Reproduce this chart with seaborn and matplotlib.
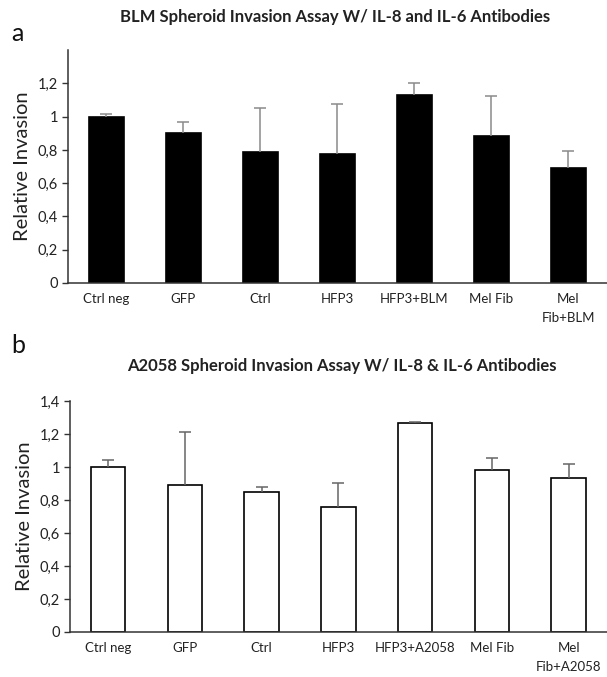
import numpy as np
import pandas as pd
import matplotlib
matplotlib.use("Agg")
import matplotlib.pyplot as plt
import seaborn as sns

cats_a = ["Ctrl neg", "GFP", "Ctrl", "HFP3", "HFP3+BLM", "Mel Fib", "Mel\nFib+BLM"]
vals_a = [1.00, 0.90, 0.786, 0.776, 1.133, 0.881, 0.692]
err_a = [0.015, 0.067, 0.263, 0.297, 0.071, 0.244, 0.100]

cats_b = ["Ctrl neg", "GFP", "Ctrl", "HFP3", "HFP3+A2058", "Mel Fib", "Mel\nFib+A2058"]
vals_b = [1.00, 0.890, 0.849, 0.760, 1.271, 0.983, 0.936]
err_b = [0.045, 0.324, 0.032, 0.142, 0.006, 0.075, 0.083]

yticks = [0, 0.2, 0.4, 0.6, 0.8, 1.0, 1.2, 1.4]
ytick_labels = ["0", "0,2", "0,4", "0,6", "0,8", "1", "1,2", "1,4"]

title_a = "BLM Spheroid Invasion Assay W/ IL-8 and IL-6 Antibodies"
title_b = "A2058 Spheroid Invasion Assay W/ IL-8 & IL-6 Antibodies"

sns.set_style("white")
plt.rcParams["font.family"] = ["Lato", "DejaVu Sans"]

fig = plt.figure(figsize=(6.07, 6.77), dpi=100)
ax_a = fig.add_axes([0.1115, 0.582, 0.8885, 0.344])
ax_b = fig.add_axes([0.1148, 0.0665, 0.8852, 0.3407])


def draw(ax, cats, vals, errs, face, ecolor, n_labels):
    df = pd.DataFrame({"cat": cats, "val": vals})
    sns.barplot(data=df, x="cat", y="val", ax=ax, color=face, width=0.45,
                edgecolor="black", linewidth=1.2, saturation=1)
    x = np.arange(len(cats))
    _, caps, _ = ax.errorbar(x, vals, yerr=[np.zeros(len(cats)), errs], fmt="none",
                             ecolor=ecolor, elinewidth=1.1, capsize=4, capthick=1.1, zorder=1)
    caps[0].set_visible(False)
    ax.set_xlim(-0.5, len(cats) - 0.5)
    ax.set_ylim(0, 1.4)
    ax.set_yticks(yticks[:n_labels])
    ax.set_yticklabels(ytick_labels[:n_labels], fontsize=10.5, color="#222222")
    ax.set_xticks(x)
    ax.set_xticklabels(cats, fontsize=9.5, color="#222222", linespacing=1.75)
    ax.set_xticks(np.arange(len(cats) + 1) - 0.5, minor=True)
    ax.tick_params(axis="x", which="major", length=0, pad=7)
    ax.tick_params(axis="x", which="minor", length=5, width=1, color="#333333", direction="out")
    ax.tick_params(axis="y", length=4, width=1, color="#333333", direction="out", pad=3, left=True)
    ax.set_xlabel("")
    ax.set_ylabel("Relative Invasion", fontsize=14.5, color="#222222", labelpad=5)
    for s in ["top", "right"]:
        ax.spines[s].set_visible(False)
    for s in ["left", "bottom"]:
        ax.spines[s].set_color("#333333")
        ax.spines[s].set_linewidth(1.1)


draw(ax_a, cats_a, vals_a, err_a, "black", "#8a8a8a", 7)
draw(ax_b, cats_b, vals_b, err_b, "white", "#666666", 8)

fig.text(0.552, 0.975, title_a, ha="center", va="center", fontsize=12, fontweight="bold", color="#222222")
fig.text(0.563, 0.459, title_b, ha="center", va="center", fontsize=12, fontweight="bold", color="#222222")
fig.text(0.018, 0.951, "a", ha="left", va="center", fontsize=18, color="#111111")
fig.text(0.018, 0.49, "b", ha="left", va="center", fontsize=18, color="#111111")

fig.savefig("out.png", dpi=100)
